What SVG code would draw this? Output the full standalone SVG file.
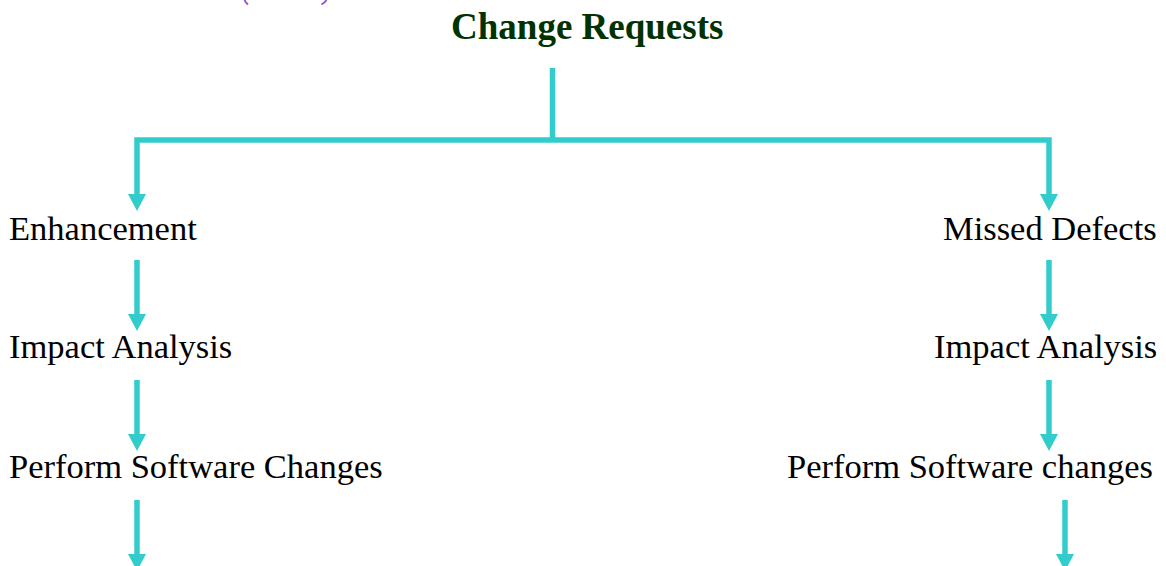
<svg xmlns="http://www.w3.org/2000/svg" width="1166" height="566" viewBox="0 0 1166 566">
<style>
.lbl{font-family:"Liberation Serif","Times New Roman",serif;font-size:34.5px;fill:#000000}
.title{font-family:"Liberation Serif","Times New Roman",serif;font-size:37px;font-weight:bold;fill:#003300}
.ln{stroke:#33CCCC;stroke-width:5.5;fill:none}
.hd{fill:#33CCCC}
.arc{stroke:#9955CC;stroke-width:2;fill:none}
</style>
<rect width="1166" height="566" fill="#ffffff"/>
<g id="decor">
<path class="arc" d="M244.5,0 Q245.5,2.5 248,4.5"/>
<path class="arc" d="M326.5,0 Q325,2.5 321.5,4.5"/>
</g>
<g id="title"><text class="title" x="451" y="39">Change Requests</text></g>
<g id="enhancement"><text class="lbl" x="9" y="240">Enhancement</text></g>
<g id="impact-left"><text class="lbl" x="9" y="358">Impact Analysis</text></g>
<g id="perform-left"><text class="lbl" x="9" y="478">Perform Software Changes</text></g>
<g id="missed-defects"><text class="lbl" x="943" y="240">Missed Defects</text></g>
<g id="impact-right"><text class="lbl" x="934" y="358">Impact Analysis</text></g>
<g id="perform-right"><text class="lbl" x="787" y="478">Perform Software changes</text></g>
<g id="connectors">
<path class="ln" d="M552.5,68 V140"/>
<path class="ln" d="M137,195 V140 H1049 V195"/>
<polygon class="hd" points="128,194 146,194 137,211"/>
<polygon class="hd" points="1040,194 1058,194 1049,211"/>
<path class="ln" d="M137,260 V316"/>
<polygon class="hd" points="128,314 146,314 137,331"/>
<path class="ln" d="M137,380 V436"/>
<polygon class="hd" points="128,434 146,434 137,451"/>
<path class="ln" d="M137,500 V556"/>
<polygon class="hd" points="128,554 146,554 137,571"/>
<path class="ln" d="M1049,260 V316"/>
<polygon class="hd" points="1040,314 1058,314 1049,331"/>
<path class="ln" d="M1049,380 V436"/>
<polygon class="hd" points="1040,434 1058,434 1049,451"/>
<path class="ln" d="M1065,500 V556"/>
<polygon class="hd" points="1056,554 1074,554 1065,571"/>
</g>
</svg>
